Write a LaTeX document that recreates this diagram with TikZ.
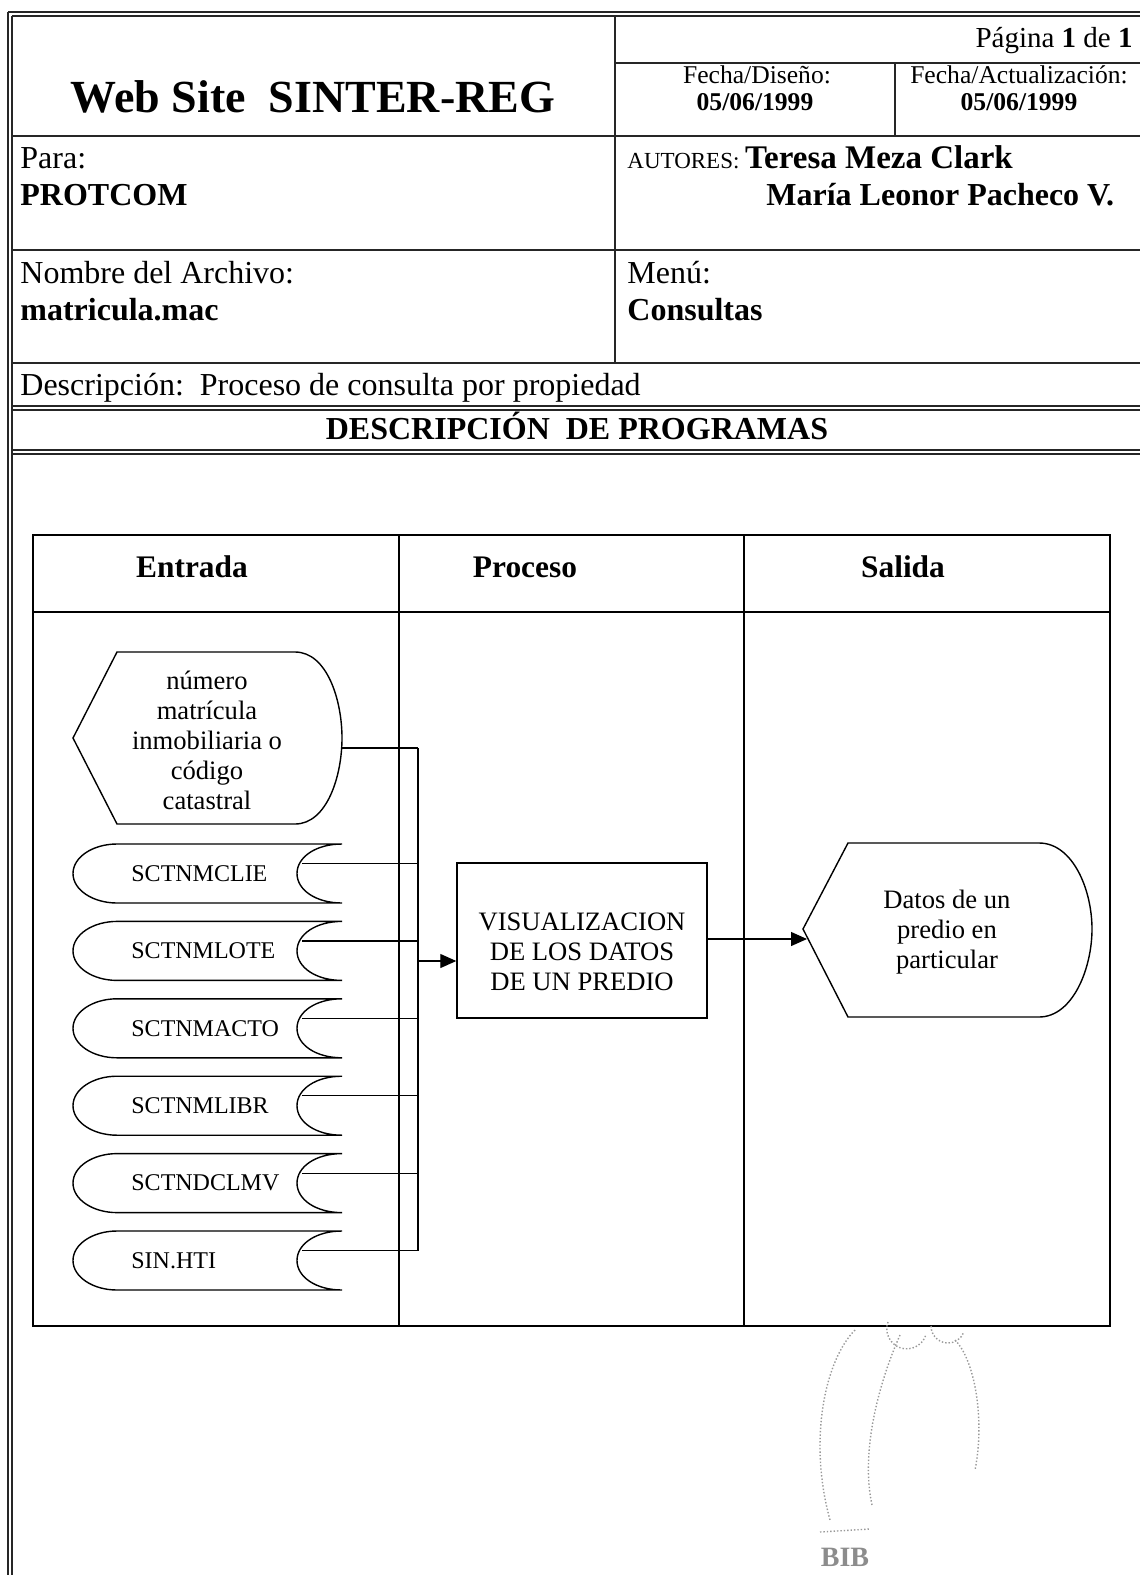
\documentclass[tikz,border=0pt]{standalone}
\usepackage{fontspec}
\setmainfont{Liberation Serif}
\usetikzlibrary{arrows.meta}
\newcommand\myfs[1]{\fontsize{#1}{#1}\selectfont}
\tikzset{
  frameline/.style={line width=0.75pt, black!85},
  tabline/.style={line width=0.7pt},
  shapeline/.style={line width=0.7pt},
  conn/.style={line width=0.6pt},
  arr/.style={line width=0.6pt, -{Triangle[length=8pt,width=7pt]}},
  lbl/.style={inner sep=0pt, anchor=base west},
  shapetext/.style={inner sep=0pt, align=center, font=\fontsize{13.3}{15}\selectfont},
  storetext/.style={inner sep=0pt, anchor=west, font=\myfs{12}},
  stampmark/.style={black!40, densely dotted, line width=0.7pt},
}
\begin{document}
\begin{tikzpicture}[x=0.5pt,y=-0.5pt]
\useasboundingbox (0,0) rectangle (1140,1575);
\fill[white] (0,0) rectangle (1140,1575);

% page frame (double lines)
\draw[frameline] (8,12) -- (8,1575);
\draw[frameline] (12,16) -- (12,1575);
\draw[frameline] (8,12) -- (1140,12);
\draw[frameline] (12,16) -- (1140,16);

% header grid
\draw[frameline] (615,16) -- (615,363);
\draw[frameline] (615,63) -- (1140,63);
\draw[frameline] (895,63) -- (895,136);
\draw[frameline] (12,136) -- (1140,136);
\draw[frameline] (12,250) -- (1140,250);
\draw[frameline] (12,363) -- (1140,363);
\draw[frameline] (12,406) -- (1140,406);
\draw[frameline] (12,410) -- (1140,410);
\draw[frameline] (12,450) -- (1140,450);
\draw[frameline] (12,454) -- (1140,454);

% header texts
\node[inner sep=0pt, anchor=base, font=\bfseries\myfs{23}] (title) at (313,112) {Web Site\ \ SINTER-REG};
\node[inner sep=0pt, anchor=base east, font=\myfs{14.5}] (pagina) at (1133,47) {Página \textbf{1} de \textbf{1}};
\node[inner sep=0pt, anchor=base, font=\myfs{12.8}] (fdis) at (757,83) {Fecha/Diseño:};
\node[inner sep=0pt, anchor=base, font=\bfseries\myfs{12.8}] (fdisv) at (755,110) {05/06/1999};
\node[inner sep=0pt, anchor=base, font=\myfs{12.8}] (fact) at (1019,83) {Fecha/Actualización:};
\node[inner sep=0pt, anchor=base, font=\bfseries\myfs{12.8}] (factv) at (1019,110) {05/06/1999};
\node[lbl, font=\myfs{16}] (para) at (20,168) {Para:};
\node[lbl, font=\bfseries\myfs{16}] (parav) at (20,205) {PROTCOM};
\node[lbl] (aut) at (627,168) {{\myfs{11.5}AUTORES: }{\bfseries\myfs{16.5}Teresa Meza Clark}};
\node[lbl, font=\bfseries\myfs{16}] (aut2) at (766,205) {María Leonor Pacheco V.};
\node[lbl, font=\myfs{16}] (nom) at (20,283) {Nombre del Archivo:};
\node[lbl, font=\bfseries\myfs{16}] (nomv) at (20,320) {matricula.mac};
\node[lbl, font=\myfs{16}] (menu) at (627,283) {Menú:};
\node[lbl, font=\bfseries\myfs{16}] (menuv) at (627,320) {Consultas};
\node[lbl, font=\myfs{16}] (desc) at (20,395) {Descripción:\ \ Proceso de consulta por propiedad};
\node[inner sep=0pt, anchor=base, font=\bfseries\myfs{16}] (dprog) at (577,439) {DESCRIPCIÓN\ \ DE PROGRAMAS};

% table
\draw[tabline] (33,535) rectangle (1110,1326);
\draw[tabline] (33,612) -- (1110,612);
\draw[tabline] (399,535) -- (399,1326);
\draw[tabline] (744,535) -- (744,1326);
\node[inner sep=0pt, anchor=base, font=\bfseries\myfs{15.7}] (hin) at (192,577) {Entrada};
\node[inner sep=0pt, anchor=base, font=\bfseries\myfs{15.7}] (hpr) at (525,577) {Proceso};
\node[inner sep=0pt, anchor=base, font=\bfseries\myfs{15.7}] (hout) at (903,577) {Salida};

% input display shape
\draw[shapeline] (117,652) -- (295,652) .. controls (327,652) and (342,700) .. (342,738) .. controls (342,776) and (327,824) .. (295,824) -- (117,824) -- (73,738) -- cycle;
\node[shapetext] (hex) at (207,740) {número\\matrícula\\inmobiliaria o\\código\\catastral};
\coordinate (hex-o) at (342,748);
\coordinate (hex-b) at (418,748);
\draw[conn] (hex-o) -- (hex-b);

% stored data shapes
\foreach \i/\nm/\txt in {0/s1/SCTNMCLIE,1/s2/SCTNMLOTE,2/s3/SCTNMACTO,3/s4/SCTNMLIBR,4/s5/SCTNDCLMV,5/s6/SIN.HTI}{
  \pgfmathsetmacro\T{844+77.4*\i}
  \pgfmathsetmacro\B{\T+59}
  \pgfmathsetmacro\M{\T+29.5}
  \pgfmathsetmacro\C{\M-10}
  \draw[shapeline] (342,\T) -- (117,\T) .. controls (93,\T) and (73,{\T+13}) .. (73,\M) .. controls (73,{\B-13}) and (93,\B) .. (117,\B) -- (342,\B) .. controls (316,\B) and (297,{\B-13}) .. (297,\M) .. controls (297,{\T+13}) and (316,\T) .. (342,\T);
  \node[storetext] (\nm) at (131,\M) {\txt};
  \coordinate (\nm-o) at (302,\C);
  \coordinate (\nm-b) at (418,\C);
  \draw[conn] (\nm-o) -- (\nm-b);
}
\draw[conn] (hex-b) -- (s6-b);

% process box
\node[draw, shapeline, minimum width=125pt, minimum height=77.5pt, inner sep=0pt] (proc) at (582,940.5) {};
\node[shapetext] (proctext) at (582,952) {VISUALIZACION\\DE LOS DATOS\\DE UN PREDIO};
\coordinate (busin) at (418,961);
\draw[arr] (busin) -- (busin -| proc.west);

% output display shape
\draw[shapeline] (848,843) -- (1039,843) .. controls (1073,843) and (1092,890) .. (1092,929) .. controls (1092,968) and (1073,1017) .. (1039,1017) -- (848,1017) -- (803,929) -- cycle;
\node[shapetext] (out) at (947,932) {Datos de un\\predio en\\particular};
\coordinate (outin) at (807,939);
\draw[arr] (proc.east |- outin) -- (outin);

% faint library stamp (scan residue)
\draw[stampmark] (931,1326) arc (180:20:17);
\draw[stampmark] (888,1322) arc (200:20:20);
\draw[stampmark] (855,1330) .. controls (825,1360) and (808,1440) .. (830,1520);
\draw[stampmark] (900,1335) .. controls (880,1380) and (860,1450) .. (872,1505);
\draw[stampmark] (955,1340) .. controls (975,1360) and (985,1420) .. (975,1470);
\draw[stampmark] (820,1532) -- (870,1529);
\node[inner sep=0pt, anchor=base, text=black!45, font=\bfseries\myfs{14}] (stamp) at (845,1566) {BIB};
\end{tikzpicture}
\end{document}
